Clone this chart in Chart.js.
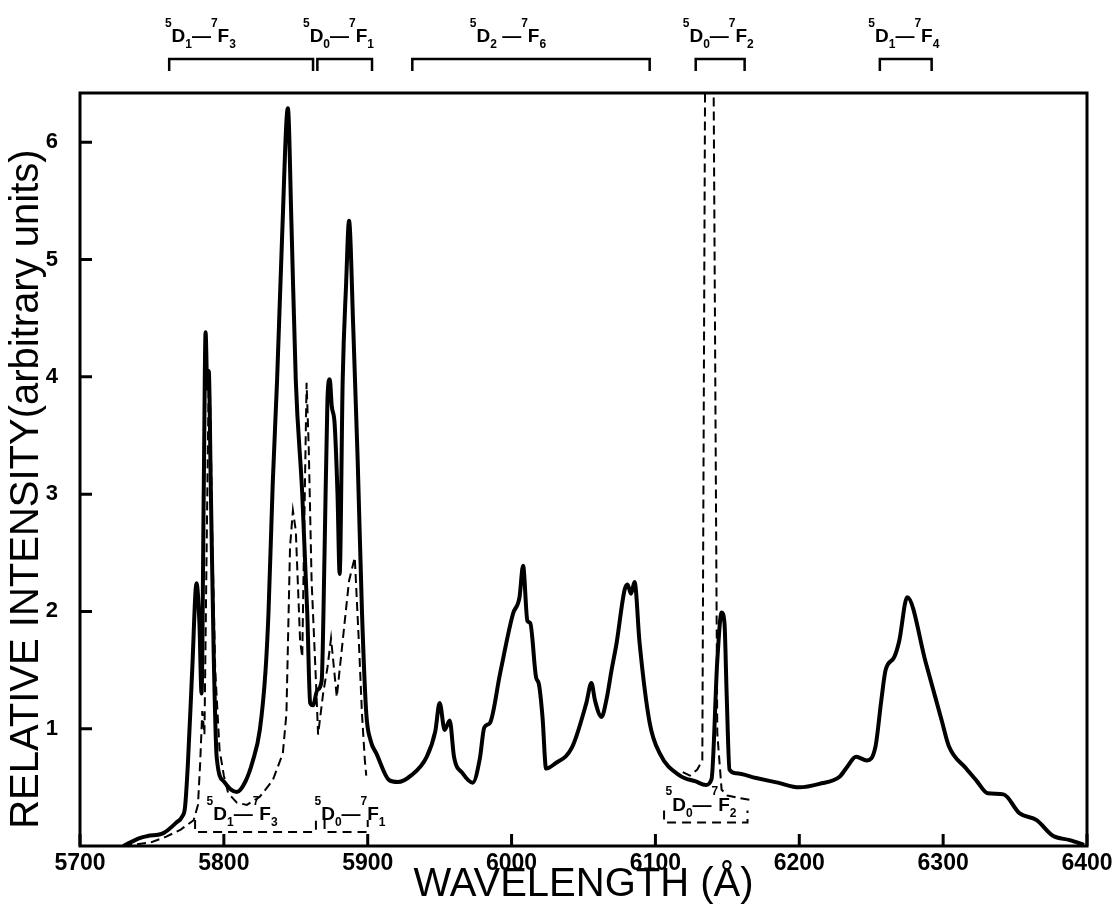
<!DOCTYPE html>
<html>
<head>
<meta charset="utf-8">
<title>Relative intensity vs wavelength</title>
<script src="https://cdn.jsdelivr.net/npm/chart.js@4.4.1/dist/chart.umd.min.js"></script>
<style>
  html, body { margin: 0; padding: 0; background: #fff; }
  #spectrum { display: block; }
</style>
</head>
<body>
<canvas id="spectrum" width="1119" height="909"></canvas>
<script>
// Emission spectrum, solid trace (wavelength in Å, intensity in arbitrary units)
const solidWavelength = [
  5730, 5742, 5747, 5758, 5767, 5771, 5773, 5775, 5778, 5781, 5783, 5784.5,
  5786, 5787.3, 5788.5, 5789.5, 5791, 5793, 5795, 5800, 5805, 5809, 5815, 5820,
  5825, 5829, 5831, 5834, 5837, 5840.5, 5844.5, 5847, 5850, 5854.5, 5858, 5860,
  5862, 5865, 5868, 5870, 5872, 5873.6, 5875, 5877, 5879, 5880.5, 5882.6, 5885,
  5887, 5890, 5893, 5896, 5899, 5902, 5906, 5915, 5921, 5930, 5941, 5947,
  5950, 5953.5, 5957, 5960, 5966, 5973, 5978, 5981, 5985, 5992, 6001, 6005.5,
  6008, 6011, 6013, 6017, 6019, 6021.5, 6024, 6030, 6042, 6052, 6055.5, 6058,
  6062.5, 6066, 6069.5, 6073, 6078.5, 6080.6, 6083, 6085.5, 6089, 6096, 6103, 6117,
  6128, 6135, 6139, 6143, 6146, 6148, 6149.5, 6151.5, 6156, 6170, 6185, 6200,
  6214, 6228, 6233, 6239.5, 6247, 6253, 6257, 6260, 6266, 6269.5, 6275, 6288,
  6299, 6304, 6316, 6323, 6331, 6342, 6353, 6365, 6376, 6388, 6398
];
const solidIntensity = [
  0, 0.07, 0.085, 0.11, 0.2, 0.25, 0.33, 0.7, 1.5, 2.24, 1.9, 1.3,
  3.0, 4.38, 3.9, 4.05, 3.0, 1.6, 0.76, 0.55, 0.48, 0.46, 0.55, 0.72,
  0.99, 1.5, 1.98, 3.1, 3.97, 5.2, 6.29, 5.3, 3.97, 3.0, 1.98, 1.22,
  1.2, 1.33, 1.41, 2.5, 3.8, 3.98, 3.75, 3.6, 3.0, 2.32, 3.97, 4.8,
  5.33, 4.4, 3.3, 2.0, 1.13, 0.9, 0.79, 0.56, 0.545, 0.6, 0.76, 0.98,
  1.22, 0.99, 1.07, 0.76, 0.62, 0.54, 0.75, 1.01, 1.05, 1.47, 1.98, 2.12,
  2.39, 1.92, 1.9, 1.44, 1.38, 1.10, 0.66, 0.7, 0.84, 1.22, 1.39, 1.24,
  1.10, 1.25, 1.50, 1.73, 2.18, 2.23, 2.15, 2.25, 1.73, 1.05, 0.79, 0.60,
  0.55, 0.52, 0.57, 1.58, 1.99, 1.9, 1.3, 0.65, 0.62, 0.58, 0.54, 0.50,
  0.53, 0.59, 0.67, 0.76, 0.73, 0.85, 1.24, 1.50, 1.61, 1.75, 2.12, 1.56,
  1.07, 0.85, 0.66, 0.56, 0.45, 0.44, 0.28, 0.22, 0.09, 0.05, 0.01
];

// Dashed trace (two pieces; null breaks the line)
const dashedWavelength = [
  5730, 5749, 5760, 5770, 5779, 5782, 5783.5, 5785, 5786.5, 5788, 5789.5, 5790.5,
  5792, 5794, 5797, 5800, 5803, 5809, 5816, 5825, 5834, 5841, 5843.5, 5845,
  5846, 5848, 5850, 5853, 5854.5, 5856, 5857.5, 5859, 5861, 5864, 5865.5, 5869,
  5872, 5874.5, 5878.5, 5887, 5891, 5894, 5896, 5898, 5899,
  6000,
  6119, 6124, 6129, 6132.6, 6137, 6143, 6146, 6150, 6158, 6167
];
const dashedIntensity = [
  0, 0.03, 0.08, 0.14, 0.22, 0.35, 0.7, 1.15, 0.95, 2.5, 4.02, 3.8,
  2.6, 1.5, 0.82, 0.6, 0.45, 0.37, 0.35, 0.42, 0.56, 0.79, 1.13, 1.98,
  2.55, 2.86, 2.69, 1.75, 1.61, 2.8, 3.95, 3.4, 2.26, 1.41, 0.95, 1.3,
  1.52, 1.77, 1.27, 2.26, 2.46, 1.7, 1.13, 0.73, 0.6,
  null,
  0.63, 0.6, 0.65, 0.73, 14, 0.96, 0.48, 0.43, 0.41, 0.39
];

// Tick labels
const xTicks = [5700, 5800, 5900, 6000, 6100, 6200, 6300, 6400];
const yTicks = [1, 2, 3, 4, 5, 6];

// Transition labels (^ = superscript, _ = subscript)
const topTransitions = [
  { from: 5762, to: 5862, labelAt: 5759, text: '^5D_1\u2014^7F_3' },
  { from: 5865, to: 5903, labelAt: 5855, text: '^5D_0\u2014^7F_1' },
  { from: 5931, to: 6096, labelAt: 5971, text: '^5D_2 \u2014^7F_6' },
  { from: 6128, to: 6162, labelAt: 6119, text: '^5D_0\u2014^7F_2' },
  { from: 6256, to: 6292, labelAt: 6248, text: '^5D_1\u2014^7F_4' }
];
const bottomTransitions = [
  { from: 5780, to: 5864, level: 0.12, labelAt: 5788, text: '^5D_1\u2014^7F_3' },
  { from: 5870, to: 5900, level: 0.12, labelAt: 5863, text: '^5D_0\u2014^7F_1' },
  { from: 6106, to: 6164, level: 0.2, labelAt: 6107, text: '^5D_0\u2014^7F_2' }
];

const FONT = "'Liberation Sans', Arial, sans-serif";
const Y_TITLE = 'RELATIVE INTENSITY(arbitrary units)';

function drawTerm(ctx, text, x, y, size) {
  let cx = x;
  ctx.textAlign = 'left';
  ctx.textBaseline = 'alphabetic';
  for (let i = 0; i < text.length; i++) {
    let ch = text[i];
    let mode = '';
    if (ch === '^' || ch === '_') {
      mode = ch;
      ch = text[++i];
    }
    const s = mode ? Math.round(size * 0.64) : size;
    ctx.font = 'bold ' + s + 'px ' + FONT;
    const dy = mode === '^' ? -size * 0.8 : mode === '_' ? size * 0.32 : 0;
    ctx.fillText(ch, cx, y + dy);
    cx += ctx.measureText(ch).width;
  }
}

const spectrumDecor = {
  id: 'spectrumDecor',
  afterDraw(chart) {
    const { ctx, chartArea: a, scales: { x, y } } = chart;
    ctx.save();
    ctx.strokeStyle = '#000';
    ctx.fillStyle = '#000';

    // frame
    ctx.lineWidth = 3;
    ctx.strokeRect(a.left, a.top, a.right - a.left, a.bottom - a.top);

    // inward tick marks
    ctx.beginPath();
    xTicks.forEach(v => {
      const px = x.getPixelForValue(v);
      ctx.moveTo(px, a.bottom);
      ctx.lineTo(px, a.bottom - 12);
    });
    yTicks.forEach(v => {
      const py = y.getPixelForValue(v);
      ctx.moveTo(a.left, py);
      ctx.lineTo(a.left + 12, py);
    });
    ctx.stroke();

    // vertical axis title, sitting a little below the middle like the original
    ctx.save();
    ctx.translate(27, a.top + (a.bottom - a.top) * 0.526);
    ctx.rotate(-Math.PI / 2);
    ctx.font = '40px ' + FONT;
    ctx.textAlign = 'center';
    ctx.textBaseline = 'middle';
    ctx.fillText(Y_TITLE, 0, 0);
    ctx.restore();

    // brackets above the plot
    ctx.lineWidth = 2.5;
    topTransitions.forEach(t => {
      const x0 = x.getPixelForValue(t.from);
      const x1 = x.getPixelForValue(t.to);
      ctx.beginPath();
      ctx.moveTo(x0, a.top - 22);
      ctx.lineTo(x0, a.top - 34);
      ctx.lineTo(x1, a.top - 34);
      ctx.lineTo(x1, a.top - 22);
      ctx.stroke();
      drawTerm(ctx, t.text, x.getPixelForValue(t.labelAt), a.top - 51, 19);
    });

    // dashed brackets inside the plot
    ctx.lineWidth = 2;
    ctx.setLineDash([9, 6]);
    bottomTransitions.forEach(t => {
      const x0 = x.getPixelForValue(t.from);
      const x1 = x.getPixelForValue(t.to);
      const py = y.getPixelForValue(t.level);
      ctx.beginPath();
      ctx.moveTo(x0, py - 12);
      ctx.lineTo(x0, py);
      ctx.lineTo(x1, py);
      ctx.lineTo(x1, py - 12);
      ctx.stroke();
    });
    ctx.setLineDash([]);
    bottomTransitions.forEach(t => {
      const py = y.getPixelForValue(t.level);
      drawTerm(ctx, t.text, x.getPixelForValue(t.labelAt), py - 12, 19);
    });

    ctx.restore();
  }
};

new Chart(document.getElementById('spectrum'), {
  type: 'line',
  data: {
    datasets: [
      {
        label: 'solid',
        data: solidWavelength.map((w, i) => ({ x: w, y: solidIntensity[i] })),
        borderColor: '#000',
        borderWidth: 4,
        pointRadius: 0,
        cubicInterpolationMode: 'monotone',
        fill: false
      },
      {
        label: 'dashed',
        data: dashedWavelength.map((w, i) => ({ x: w, y: dashedIntensity[i] })),
        borderColor: '#000',
        borderWidth: 2,
        borderDash: [9, 5],
        pointRadius: 0,
        spanGaps: false,
        fill: false
      }
    ]
  },
  options: {
    responsive: false,
    animation: false,
    layout: { padding: { top: 93, right: 32, bottom: 0, left: 0 } },
    plugins: {
      legend: { display: false },
      tooltip: { enabled: false }
    },
    scales: {
      x: {
        type: 'linear',
        min: 5700,
        max: 6400,
        afterBuildTicks: s => { s.ticks = xTicks.map(v => ({ value: v })); },
        afterFit: s => { s.height = 63; },
        grid: { display: false, drawTicks: false },
        border: { display: false },
        ticks: {
          color: '#000',
          padding: 4,
          maxRotation: 0,
          autoSkip: false,
          font: { family: FONT, size: 23, weight: 'bold' },
          callback: v => String(v)
        },
        title: {
          display: true,
          text: 'WAVELENGTH (Å)',
          color: '#000',
          padding: 0,
          font: { family: FONT, size: 40 }
        }
      },
      y: {
        min: 0,
        max: 6.42,
        afterBuildTicks: s => { s.ticks = yTicks.map(v => ({ value: v })); },
        afterFit: s => { s.width = 80; },
        grid: { display: false, drawTicks: false },
        border: { display: false },
        ticks: {
          color: '#000',
          padding: 22,
          font: { family: FONT, size: 22, weight: 'bold' },
          callback: v => String(v)
        },
        title: { display: false }
      }
    }
  },
  plugins: [spectrumDecor]
});
</script>
</body>
</html>
